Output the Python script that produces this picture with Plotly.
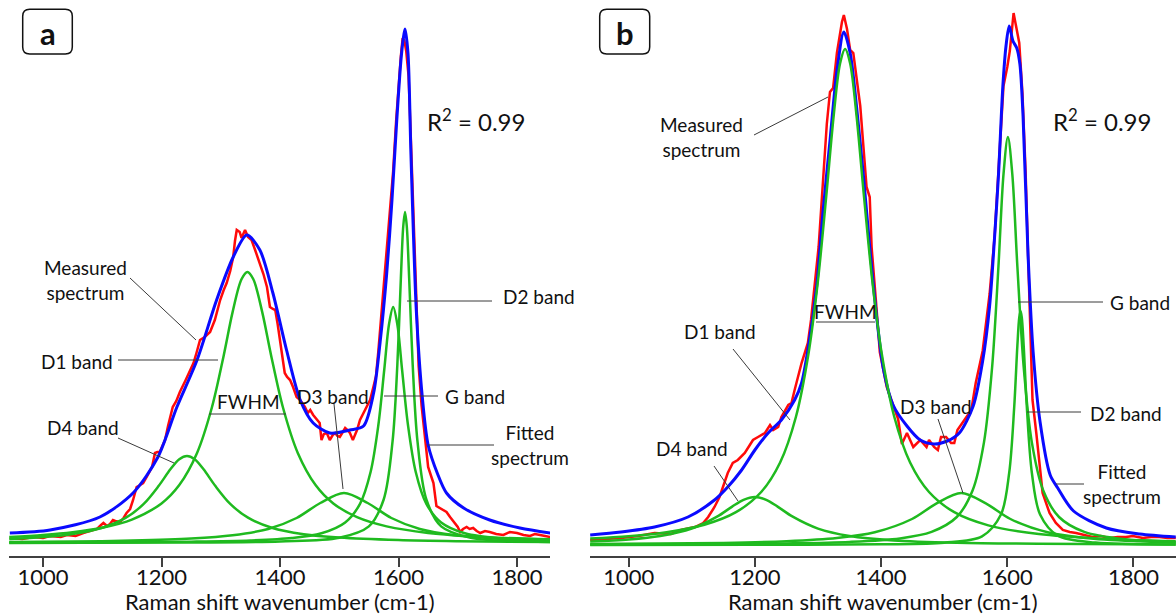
import plotly.graph_objects as go

# ---------------- Panel a data (Raman shift in cm-1, intensity in a.u.) ----------------
a_meas_x = [944, 965, 984, 1000, 1012, 1030, 1040, 1055, 1068, 1080,
            1091, 1098, 1102, 1108, 1113, 1118, 1122, 1130, 1136, 1141,
            1147, 1152, 1158, 1164, 1169, 1175, 1180, 1184, 1189, 1193,
            1197, 1202, 1206, 1211, 1219, 1225, 1231, 1240, 1248, 1254,
            1259, 1265, 1273, 1282, 1290, 1299, 1305, 1310, 1316, 1321,
            1324, 1327, 1332, 1335, 1338, 1341, 1346, 1352, 1358, 1366,
            1372, 1378, 1383, 1388, 1392, 1396, 1400, 1404, 1408, 1412,
            1417, 1422, 1428, 1434, 1442, 1447, 1451, 1456, 1462, 1467,
            1470, 1474, 1479, 1484, 1489, 1493, 1497, 1501, 1506, 1510,
            1514, 1518, 1523, 1527, 1530, 1535, 1543, 1552, 1558, 1562,
            1566, 1571, 1576, 1581, 1586, 1591, 1596, 1600, 1604, 1607,
            1610, 1613, 1617, 1621, 1626, 1630, 1634, 1639, 1645, 1650,
            1655, 1659, 1664, 1670, 1676, 1681, 1687, 1691, 1695, 1700,
            1704, 1709, 1715, 1720, 1726, 1732, 1738, 1746, 1754, 1765,
            1777, 1788, 1800, 1811, 1822, 1830, 1839, 1848, 1856]
a_meas_y = [18, 17, 19, 18, 20, 19, 21, 20, 23, 25,
            27, 31, 33, 30, 32, 36, 35, 34, 38, 43,
            47, 56, 69, 71, 73, 79, 84, 89, 103, 104,
            104, 110, 116, 130, 149, 155, 164, 175, 186, 193,
            203, 216, 219, 224, 236, 256, 266, 273, 285, 299,
            315, 326, 324, 318, 322, 326, 319, 316, 306, 293,
            282, 269, 249, 247, 246, 232, 216, 198, 183, 179,
            176, 169, 159, 156, 149, 143, 146, 141, 136, 133,
            116, 122, 123, 116, 121, 123, 120, 119, 124, 128,
            126, 123, 116, 122, 126, 136, 146, 156, 170, 180,
            205, 240, 275, 310, 345, 385, 435, 470, 500, 518,
            515, 505, 480, 415, 330, 250, 190, 150, 116, 89,
            80, 73, 50, 48, 46, 44, 39, 36, 33, 29,
            24, 27, 29, 27, 28, 25, 23, 25, 24, 22,
            21, 24, 23, 21, 20, 22, 21, 20, 19]

a_fit_x = [944, 1012, 1096, 1152, 1194, 1226, 1260, 1293, 1321, 1344,
           1366, 1388, 1411, 1434, 1456, 1484, 1518, 1541, 1558, 1569,
           1580, 1589, 1597, 1604, 1608, 1611, 1616, 1621, 1630, 1640,
           1650, 1666, 1681, 1710, 1754, 1805, 1856]
a_fit_y = [23, 26, 39, 63, 99, 149, 196, 256, 299, 321,
           306, 263, 206, 156, 133, 123, 126, 130, 163, 214,
           282, 356, 435, 495, 517, 527, 503, 402, 246, 160,
           111, 82, 63, 48, 36, 28, 23]

a_d1_x = [943, 1000, 1050, 1100, 1150, 1200, 1230, 1260, 1285, 1305, 1320, 1335, 1345,
          1355, 1370, 1385, 1405, 1430, 1460, 1490, 1530, 1580, 1650, 1750, 1856]
a_d1_y = [18.9, 21.0, 23.8, 28.3, 36.4, 52.6, 71.0, 103.1, 148.5, 200.6, 243.9, 276.7, 284,
          276.7, 243.9, 200.6, 148.5, 103.1, 71.0, 52.6, 38.8, 29.6, 23.1, 18.8, 16.7]

a_d4_x = [943, 1000, 1050, 1100, 1140, 1170, 1195, 1215, 1230, 1243, 1256,
          1271, 1291, 1316, 1346, 1386, 1440, 1500, 1600, 1700, 1856]
a_d4_y = [17.0, 19.0, 22.1, 28.3, 38.3, 52.1, 69.9, 86.7, 96.8, 100, 96.8,
          86.7, 69.9, 52.1, 38.3, 28.3, 21.8, 18.4, 15.9, 14.8, 14.0]

a_d3_x = [943, 1050, 1150, 1250, 1320, 1380, 1428, 1468, 1508, 1548, 1588, 1636, 1696, 1770, 1856]
a_d3_y = [14.0, 14.5, 15.4, 17.4, 20.7, 27.0, 38.0, 53.0, 63, 53.0, 38.0, 27.0, 20.7, 17.3, 15.5]

a_g_x = [943, 1100, 1250, 1350, 1420, 1470, 1510, 1535, 1553, 1566, 1576,
         1584, 1591, 1598, 1606, 1616, 1629, 1647, 1672, 1712, 1780, 1856]
a_g_y = [13.4, 13.6, 14.3, 15.5, 17.9, 22.7, 33.5, 52.2, 84.3, 131, 186.5,
         231.8, 249, 231.8, 186.5, 131, 84.3, 52.2, 33.5, 22.7, 17.1, 15.1]

a_d2_x = [943, 1200, 1400, 1500, 1550, 1575, 1590, 1598, 1604, 1608,
          1611, 1614, 1618, 1624, 1632, 1647, 1672, 1720, 1790, 1856]
a_d2_y = [13.1, 13.4, 14.5, 18.2, 29.6, 56.5, 114.8, 190.8, 277.8, 329.5,
          344, 329.5, 277.8, 190.8, 114.8, 56.5, 29.6, 18.4, 15.0, 14.1]

# ---------------- Panel b data ----------------
b_meas_x = [939, 964, 988, 1015, 1041, 1067, 1083, 1105, 1118, 1126,
            1136, 1144, 1152, 1157, 1165, 1173, 1184, 1197, 1205, 1216,
            1224, 1229, 1237, 1242, 1253, 1258, 1263, 1274, 1284, 1289,
            1301, 1308, 1314, 1319, 1324, 1330, 1338, 1341, 1346, 1351,
            1356, 1367, 1377, 1382, 1385, 1393, 1398, 1409, 1419, 1427,
            1433, 1441, 1451, 1462, 1472, 1476, 1484, 1490, 1495, 1503,
            1511, 1516, 1521, 1532, 1543, 1550, 1561, 1572, 1580, 1586,
            1594, 1600, 1604, 1610, 1614, 1619, 1624, 1629, 1633, 1637,
            1640, 1646, 1651, 1656, 1667, 1677, 1688, 1699, 1709, 1722,
            1735, 1748, 1762, 1775, 1788, 1799, 1815, 1828, 1841, 1854,
            1867]
b_meas_y = [16, 17, 18, 20, 23, 22, 26, 29, 33, 39,
            49, 59, 73, 83, 93, 96, 103, 116, 119, 123,
            131, 126, 129, 139, 151, 153, 166, 193, 213, 236,
            309, 380, 432, 464, 468, 503, 534, 541, 527, 506,
            503, 450, 369, 359, 309, 246, 204, 169, 151, 137,
            112, 123, 109, 116, 109, 116, 109, 106, 119, 119,
            113, 113, 126, 136, 146, 173, 205, 262, 320, 385,
            470, 489, 505, 543, 528, 513, 463, 385, 300, 215,
            156, 123, 89, 63, 43, 33, 26, 24, 23, 21,
            19, 20, 18, 19, 19, 20, 18, 19, 19, 18,
            18]

b_fit_x = [939, 988, 1041, 1094, 1136, 1157, 1179, 1200, 1221, 1242,
           1263, 1274, 1284, 1298, 1308, 1319, 1330, 1341, 1351, 1361,
           1372, 1382, 1393, 1404, 1419, 1441, 1462, 1484, 1505, 1524,
           1546, 1561, 1572, 1580, 1586, 1593, 1598, 1603, 1609, 1615,
           1620, 1625, 1633, 1641, 1652, 1668, 1680, 1705, 1757, 1810,
           1867]
b_fit_y = [21, 24, 29, 39, 56, 69, 86, 106, 123, 136,
           156, 173, 206, 270, 344, 415, 485, 524, 503, 450,
           380, 309, 239, 186, 151, 130, 116, 112, 115, 123,
           150, 195, 250, 320, 380, 470, 510, 530, 515, 508,
           492, 440, 300, 204, 134, 81, 68, 45, 28, 22,
           19]

b_d1_x = [939, 1000, 1060, 1120, 1170, 1210, 1240, 1265, 1285, 1300, 1313, 1325, 1335, 1343,
          1351, 1361, 1373, 1386, 1401, 1421, 1446, 1476, 1516, 1570, 1650, 1750, 1867]
b_d1_y = [17.4, 19.8, 23.8, 31.2, 43.8, 64, 93.5, 139, 202.5, 275.7, 359, 441, 492.5, 507,
          492.5, 441, 359, 275.7, 202.5, 139, 93.5, 64, 43.8, 30.6, 21.9, 17.3, 14.8]

b_g_x = [939, 1100, 1250, 1350, 1430, 1480, 1520, 1545, 1563, 1576, 1586,
         1594, 1601, 1608, 1616, 1626, 1639, 1657, 1682, 1722, 1790, 1867]
b_g_y = [11.5, 11.8, 12.6, 14.1, 17.6, 24.1, 39, 65.5, 113.4, 189, 289.5,
         381.6, 419, 381.6, 289.5, 189, 113.4, 65.5, 39, 24.1, 16.5, 13.8]

b_d2_x = [939, 1200, 1400, 1500, 1560, 1590, 1603, 1611, 1616, 1619,
          1621, 1623, 1626, 1631, 1639, 1652, 1680, 1740, 1867]
b_d2_y = [11.1, 11.2, 11.7, 13.3, 19.7, 41.5, 83, 149, 210.4, 238.7,
          245, 238.7, 210.4, 149, 83, 41.5, 20.3, 13.4, 11.6]

b_d3_x = [939, 1050, 1150, 1250, 1330, 1390, 1449, 1488, 1527, 1566, 1605, 1664, 1724, 1800, 1867]
b_d3_y = [11.9, 12.4, 13.1, 14.8, 18.0, 23.7, 37, 52.6, 63, 52.6, 37, 23.7, 18.0, 14.9, 13.6]

b_d4_x = [939, 1000, 1050, 1100, 1140, 1164, 1182, 1200, 1218, 1236,
          1260, 1300, 1350, 1420, 1520, 1650, 1867]
b_d4_y = [14.4, 16.5, 20.0, 27.4, 39.3, 49.4, 56.2, 59, 56.2, 49.4,
          39.3, 27.4, 20.0, 15.6, 13.3, 12.2, 11.6]

tick_vals = [1000, 1200, 1400, 1600, 1800]
tick_text = ["1000", "1200", "1400", "1600", "1800"]
axis_title = "Raman shift wavenumber (cm-1)"

# ---------------- figure ----------------
W, H = 1176, 614
PB = 556  # bottom of plotting area in pixels
FONT = "Lato, 'Open Sans', sans-serif"
RED, BLUE, GREEN = "#ff0a0a", "#0a0aff", "#1fba1f"

fig = go.Figure()


def add_panel(xa, ya, meas, fit, bands):
    fig.add_trace(go.Scatter(x=meas[0], y=meas[1], mode="lines", xaxis=xa, yaxis=ya,
                             line=dict(color=RED, width=2.5), hoverinfo="skip"))
    fig.add_trace(go.Scatter(x=fit[0], y=fit[1], mode="lines", xaxis=xa, yaxis=ya,
                             line=dict(color=BLUE, width=3, shape="spline", smoothing=0.8),
                             hoverinfo="skip"))
    for bx, by in bands:
        fig.add_trace(go.Scatter(x=bx, y=by, mode="lines", xaxis=xa, yaxis=ya,
                                 line=dict(color=GREEN, width=2.5, shape="spline", smoothing=0.9),
                                 hoverinfo="skip"))


add_panel("x", "y", (a_meas_x, a_meas_y), (a_fit_x, a_fit_y),
          [(a_d4_x, a_d4_y), (a_d3_x, a_d3_y), (a_d1_x, a_d1_y), (a_g_x, a_g_y), (a_d2_x, a_d2_y)])
add_panel("x2", "y2", (b_meas_x, b_meas_y), (b_fit_x, b_fit_y),
          [(b_d4_x, b_d4_y), (b_d3_x, b_d3_y), (b_d1_x, b_d1_y), (b_g_x, b_g_y), (b_d2_x, b_d2_y)])

xaxis_style = dict(showline=True, linecolor="#404040", linewidth=1.5, ticks="outside",
                   ticklen=9, tickwidth=1.5, tickcolor="#404040", tickvals=tick_vals,
                   ticktext=tick_text, tickfont=dict(family=FONT, size=22, color="#111"),
                   ticklabelstandoff=-8,
                   showgrid=False, zeroline=False, fixedrange=True)
yaxis_style = dict(range=[0, PB], visible=False, fixedrange=True)

fig.update_layout(
    width=W, height=H,
    margin=dict(l=0, r=0, t=0, b=H - PB),
    paper_bgcolor="white", plot_bgcolor="white",
    showlegend=False,
    xaxis=dict(domain=[9 / W, 550 / W], range=[942.6, 1855.7], anchor="y", **xaxis_style),
    yaxis=dict(domain=[0, 1], anchor="x", **yaxis_style),
    xaxis2=dict(domain=[590 / W, 1.0], range=[938.7, 1867.4], anchor="y2", **xaxis_style),
    yaxis2=dict(domain=[0, 1], anchor="x2", **yaxis_style),
)


def P(px, py):
    return px / W, (PB - py) / PB


def label(text, px, py, size=19):
    x, y = P(px, py)
    fig.add_annotation(x=x, y=y, xref="paper", yref="paper", text=text, showarrow=False,
                       xanchor="center", yanchor="middle", align="center",
                       font=dict(family=FONT, size=size, color="#111"))


def leader(p0, p1, color="#3a3a3a"):
    x0, y0 = P(*p0)
    x1, y1 = P(*p1)
    fig.add_shape(type="line", xref="paper", yref="paper", x0=x0, y0=y0, x1=x1, y1=y1,
                  line=dict(color=color, width=1))


def rounded_box(px0, py0, px1, py1, r=7):
    x0, y1 = P(px0, py0)
    x1, y0 = P(px1, py1)
    rx, ry = r / W, r / PB
    path = (f"M {x0+rx},{y1} L {x1-rx},{y1} Q {x1},{y1} {x1},{y1-ry} "
            f"L {x1},{y0+ry} Q {x1},{y0} {x1-rx},{y0} L {x0+rx},{y0} "
            f"Q {x0},{y0} {x0},{y0+ry} L {x0},{y1-ry} Q {x0},{y1} {x0+rx},{y1} Z")
    fig.add_shape(type="path", xref="paper", yref="paper", path=path,
                  line=dict(color="#111", width=1.5), fillcolor="rgba(0,0,0,0)")


# panel a annotations
rounded_box(22.7, 9.3, 72.3, 54)
label("<b>a</b>", 47.5, 33, size=31)
label("R<sup>2</sup> = 0.99", 476, 120, size=24)
label("Measured<br>spectrum", 85, 280)
leader((130, 278), (196, 340))
label("D1 band", 77, 361)
leader((118, 360), (218, 360))
label("FWHM", 248, 402)
leader((209, 414), (286, 414))
label("D4 band", 83, 427)
leader((118, 438), (174, 463))
label("D3 band", 333, 396)
leader((334, 404), (343, 489))
label("G band", 475, 396)
leader((384, 396), (438, 396))
label("Fitted<br>spectrum", 530, 445)
leader((428, 445), (494, 445))
label("D2 band", 539, 296)
leader((407, 301), (492, 301))
label(axis_title, 280, 601, size=22)

# panel b annotations
rounded_box(599.7, 9.3, 649.7, 54)
label("<b>b</b>", 624.7, 33, size=31)
label("R<sup>2</sup> = 0.99", 1102, 120, size=24)
label("Measured<br>spectrum", 701, 137)
leader((754, 135), (828, 97))
label("FWHM", 845, 311)
leader((816, 322), (875, 322))
label("D1 band", 720, 331)
leader((733, 349), (790, 420))
label("D4 band", 692, 448)
leader((714, 466), (738, 501))
label("D3 band", 936, 406)
leader((938, 419), (963, 493))
label("G band", 1140, 302)
leader((1018, 302), (1103, 302))
label("D2 band", 1126, 413)
leader((1027, 412), (1081, 412))
label("Fitted<br>spectrum", 1122, 484)
leader((1056, 484), (1084, 484))
label(axis_title, 883, 601, size=22)

fig.write_html("out.html", config={"displayModeBar": False},
               post_script="document.body.style.margin='0';document.body.style.overflow='hidden';")
